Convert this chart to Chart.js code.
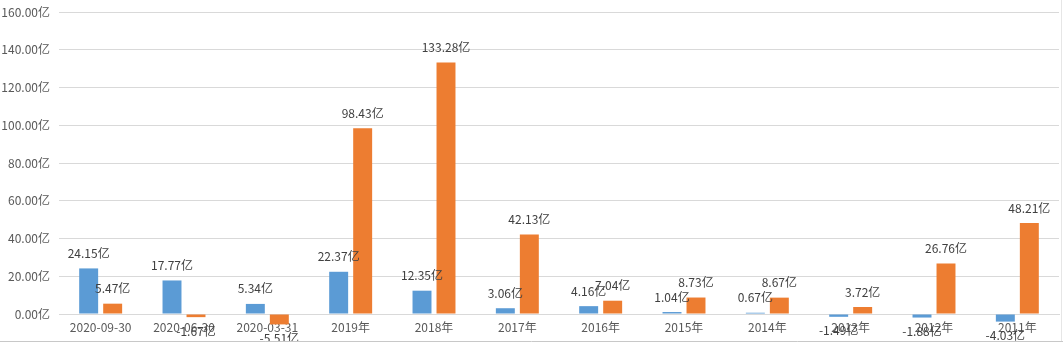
<!DOCTYPE html>
<html>
<head>
<meta charset="utf-8">
<script src="https://cdn.jsdelivr.net/npm/chart.js@4.4.1/dist/chart.umd.min.js"></script>
<style>
  html, body { margin: 0; padding: 0; background: #ffffff; }
  #wrap { width: 1063px; height: 342px; }
</style>
</head>
<body>
<div id="wrap"><canvas id="c" width="1063" height="342"></canvas></div>
<script>
// 报告期
const categories = ['2020-09-30', '2020-06-30', '2020-03-31', '2019年', '2018年', '2017年',
                    '2016年', '2015年', '2014年', '2013年', '2012年', '2011年'];
// 两组数值（单位：亿）
const seriesBlue   = [24.15, 17.77, 5.34, 22.37, 12.35, 3.06, 4.16, 1.04, 0.67, -1.49, -1.88, -4.03];
const seriesOrange = [5.47, -1.67, -5.51, 98.43, 133.28, 42.13, 7.04, 8.73, 8.67, 3.72, 26.76, 48.21];
// 纵轴刻度
const yTicks = [0, 20, 40, 60, 80, 100, 120, 140, 160];

const FONT = "'Noto Sans CJK SC', 'Liberation Sans', sans-serif";
const unit = '亿';

// 柱端数值标签：正值在柱顶上方，负值在柱底下方
const valueLabels = {
  id: 'valueLabels',
  afterDatasetsDraw(chart) {
    const ctx = chart.ctx;
    ctx.save();
    ctx.font = '12px ' + FONT;
    ctx.fillStyle = '#404040';
    ctx.textAlign = 'center';
    ctx.textBaseline = 'middle';
    chart.data.datasets.forEach((ds, i) => {
      const meta = chart.getDatasetMeta(i);
      meta.data.forEach((bar, j) => {
        const v = ds.data[j];
        const y = v >= 0 ? bar.y - 15 : bar.y + 14;
        ctx.fillText(v.toFixed(2) + unit, bar.x, y);
      });
    });
    ctx.restore();
  }
};

// 外框线
const frame = {
  id: 'frame',
  afterDraw(chart) {
    const ctx = chart.ctx;
    ctx.save();
    ctx.lineWidth = 1;
    ctx.strokeStyle = '#c8c8c8';
    ctx.beginPath();
    ctx.moveTo(0, 341.5);
    ctx.lineTo(chart.width, 341.5);
    ctx.stroke();
    ctx.strokeStyle = '#e6e6e6';
    ctx.beginPath();
    ctx.moveTo(1061.5, 0);
    ctx.lineTo(1061.5, 341);
    ctx.stroke();
    ctx.restore();
  }
};

new Chart(document.getElementById('c'), {
  type: 'bar',
  data: {
    labels: categories,
    datasets: [
      { data: seriesBlue, backgroundColor: '#5B9BD5', clip: false,
        barPercentage: 0.79, categoryPercentage: 0.576 },
      { data: seriesOrange, backgroundColor: '#ED7D31', clip: false,
        barPercentage: 0.79, categoryPercentage: 0.576 }
    ]
  },
  options: {
    responsive: false,
    animation: false,
    devicePixelRatio: 1,
    layout: { padding: { top: 12, right: 4, left: 0, bottom: 0 } },
    plugins: { legend: { display: false }, tooltip: { enabled: false } },
    scales: {
      x: {
        grid: { display: false, drawTicks: false },
        border: { display: true, color: '#d9d9d9' },
        ticks: { color: '#595959', font: { family: FONT, size: 12 }, padding: 6,
                 maxRotation: 0, autoSkip: false },
        afterFit(scale) { scale.height = 28; }
      },
      y: {
        min: yTicks[0],
        max: yTicks[yTicks.length - 1],
        afterBuildTicks(scale) { scale.ticks = yTicks.map(v => ({ value: v })); },
        grid: { color: '#d9d9d9', drawTicks: false },
        border: { display: false },
        ticks: {
          color: '#595959', font: { family: FONT, size: 12 }, padding: 9,
          callback: v => Number(v).toFixed(2) + unit
        },
        afterFit(scale) {
          scale.width = 59;
          scale.paddingTop = 0;
          scale.paddingBottom = 0;
        }
      }
    }
  },
  plugins: [valueLabels, frame]
});
</script>
</body>
</html>
